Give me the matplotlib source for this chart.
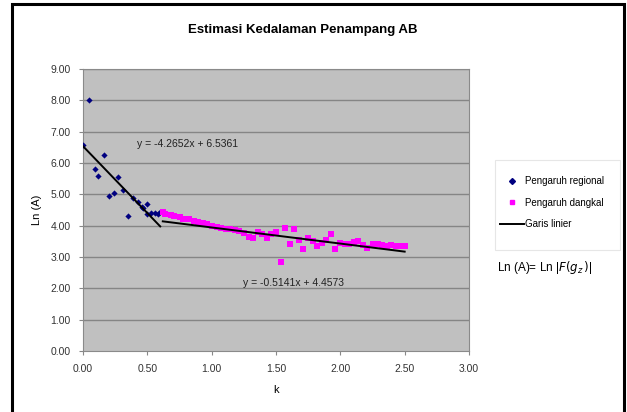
import matplotlib
matplotlib.use("Agg")
import numpy as np
import matplotlib.pyplot as plt
from matplotlib.lines import Line2D
from matplotlib.patches import Rectangle

plt.rcParams['font.family'] = ['Liberation Sans', 'DejaVu Sans']

# data
k_regional = [0.00, 0.05, 0.09, 0.12, 0.16, 0.20, 0.24, 0.27, 0.31, 0.35,
              0.39, 0.43, 0.46, 0.47, 0.50, 0.50, 0.53, 0.56, 0.58, 0.60]
ln_regional = [6.57, 8.00, 5.80, 5.57, 6.25, 4.96, 5.04, 5.55, 5.14, 4.31,
               4.88, 4.77, 4.61, 4.55, 4.70, 4.38, 4.42, 4.40, 4.38, 4.45]

k_dangkal = [0.62, 0.64, 0.68, 0.71, 0.75, 0.78, 0.82, 0.86, 0.89, 0.93,
             0.96, 1.00, 1.04, 1.07, 1.11, 1.14, 1.18, 1.21, 1.25, 1.29,
             1.32, 1.36, 1.39, 1.43, 1.46, 1.50, 1.54, 1.57, 1.61, 1.64,
             1.68, 1.71, 1.75, 1.79, 1.82, 1.86, 1.89, 1.93, 1.96, 2.00,
             2.04, 2.07, 2.11, 2.14, 2.18, 2.21, 2.25, 2.29, 2.32, 2.36,
             2.39, 2.43, 2.46, 2.50]
ln_dangkal = [4.45, 4.38, 4.33, 4.30, 4.27, 4.22, 4.20, 4.15, 4.12, 4.07,
              4.05, 4.00, 3.97, 3.93, 3.90, 3.88, 3.85, 3.82, 3.78, 3.65,
              3.60, 3.81, 3.72, 3.60, 3.75, 3.81, 2.85, 3.92, 3.42, 3.88,
              3.55, 3.26, 3.60, 3.50, 3.35, 3.45, 3.55, 3.72, 3.25, 3.44,
              3.42, 3.40, 3.48, 3.50, 3.38, 3.28, 3.42, 3.40, 3.38, 3.35,
              3.37, 3.34, 3.36, 3.36]

# trendline coefficients (slope, intercept)
trend_regional = (-4.2652, 6.5361)
trend_dangkal = (-0.5141, 4.4573)

xticks = [0.0, 0.5, 1.0, 1.5, 2.0, 2.5, 3.0]
yticks = [0, 1, 2, 3, 4, 5, 6, 7, 8, 9]

fig = plt.figure(figsize=(6.27, 4.12), dpi=100)
ax = fig.add_axes([0.1324, 0.148, 0.6156, 0.6845])
ax.set_facecolor('#c0c0c0')

for yv in yticks[1:]:
    ax.axhline(yv, color='#858585', lw=1.0, zorder=1)

ax.scatter(k_regional, ln_regional, marker='D', s=10, color='#000080',
           zorder=3, linewidths=0)
ax.scatter(k_dangkal, ln_dangkal, marker='s', s=15, color='#ff00ff',
           zorder=3, linewidths=0)

for kk, (m, b) in ((k_regional, trend_regional), (k_dangkal, trend_dangkal)):
    xs = np.array([min(kk), max(kk)])
    ax.plot(xs, m * xs + b, color='black', lw=1.4, zorder=4)

ax.text(0.42, 6.61, 'y = -4.2652x + 6.5361', fontsize=7.5, color='#222222',
        va='center', ha='left', zorder=5)
ax.text(1.245, 2.17, 'y = -0.5141x + 4.4573', fontsize=7.5, color='#222222',
        va='center', ha='left', zorder=5)

ax.set_xlim(0, 3)
ax.set_ylim(0, 9)
ax.set_xticks(xticks)
ax.set_yticks(yticks)
ax.set_xticklabels(['%.2f' % v for v in xticks], fontsize=7.5, color='#333333')
ax.set_yticklabels(['%.2f' % v for v in yticks], fontsize=7.5, color='#333333')
ax.tick_params(axis='both', direction='out', length=3, color='#888888', pad=6)
for sp in ax.spines.values():
    sp.set_color('#8a8a8a')
    sp.set_linewidth(0.8)

ax.set_xlabel('k', fontsize=8, labelpad=8)
ax.set_ylabel('Ln (A)', fontsize=8, labelpad=6)

fig.text(303 / 627, 1 - 30 / 412, 'Estimasi Kedalaman Penampang AB',
         fontsize=9.5, fontweight='bold', ha='center', va='center')

# legend box drawn separately, entries placed without frame
fig.patches.append(Rectangle((495 / 627, 1 - 250 / 412), 125 / 627, 90 / 412,
                             transform=fig.transFigure, facecolor='white',
                             edgecolor='#e6e6e6', lw=0.8))
handles = [
    Line2D([], [], marker='D', ls='none', color='#000080', markersize=3),
    Line2D([], [], marker='s', ls='none', color='#ff00ff', markersize=3.5),
    Line2D([], [], color='black', lw=1.4),
]
labels = ['Pengaruh regional', 'Pengaruh dangkal', 'Garis linier']
leg = fig.legend(handles, labels, loc='upper left',
                 bbox_to_anchor=(500 / 627, 1 - 176 / 412), fontsize=7,
                 frameon=False, handlelength=2.5, handletextpad=0.1,
                 labelspacing=1.2, borderpad=0, borderaxespad=0)

fig.text(497 / 627, 1 - 267 / 412, r'Ln (A)= Ln |$F(g_z\,)$|', fontsize=8.5,
         ha='left', va='center')

fig.patches.append(Rectangle((12 / 627, -0.02), 612 / 627, 1.02 - 4 / 412,
                             transform=fig.transFigure, fill=False,
                             edgecolor='black', lw=2.2))

fig.savefig('out.png', dpi=100)
